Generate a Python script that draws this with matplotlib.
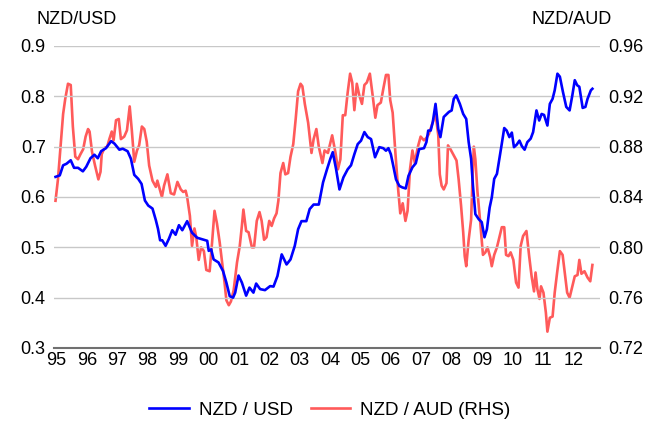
import matplotlib.pyplot as plt

plt.rcParams['font.family'] = ['Liberation Sans', 'DejaVu Sans']

# NZD/USD, left axis (decimal year, rate)
usd_t = [1994.97, 1995.11, 1995.22, 1995.33, 1995.47, 1995.58, 1995.71, 1995.87, 1995.98,
         1996.12, 1996.25, 1996.36, 1996.47, 1996.63, 1996.80, 1996.91, 1997.07, 1997.18,
         1997.34, 1997.45, 1997.56, 1997.69, 1997.80, 1997.91, 1998.02, 1998.16, 1998.27,
         1998.34, 1998.41, 1998.48, 1998.59, 1998.70, 1998.81, 1998.92, 1999.03, 1999.14,
         1999.30, 1999.46, 1999.63, 1999.79, 1999.96, 2000.01, 2000.09, 2000.17, 2000.33,
         2000.48, 2000.59, 2000.70, 2000.81, 2000.88, 2000.99, 2001.10, 2001.24, 2001.35,
         2001.48, 2001.57, 2001.70, 2001.86, 2002.03, 2002.14, 2002.27, 2002.41, 2002.57,
         2002.70, 2002.84, 2002.95, 2003.06, 2003.22, 2003.33, 2003.46, 2003.63, 2003.77,
         2003.90, 2004.01, 2004.09, 2004.20, 2004.31, 2004.44, 2004.58, 2004.69, 2004.80,
         2004.91, 2005.02, 2005.13, 2005.24, 2005.35, 2005.48, 2005.62, 2005.75, 2005.84,
         2005.92, 2006.00, 2006.08, 2006.17, 2006.28, 2006.38, 2006.49, 2006.58, 2006.71,
         2006.82, 2006.93, 2007.09, 2007.17, 2007.23, 2007.31, 2007.38, 2007.47, 2007.56,
         2007.63, 2007.74, 2007.91, 2008.00, 2008.07, 2008.15, 2008.27, 2008.38, 2008.48,
         2008.56, 2008.64, 2008.70, 2008.78, 2008.89, 2008.99, 2009.08, 2009.16, 2009.25,
         2009.32, 2009.40, 2009.49, 2009.58, 2009.65, 2009.73, 2009.81, 2009.90, 2009.98,
         2010.05, 2010.14, 2010.23, 2010.31, 2010.40, 2010.49, 2010.60, 2010.68, 2010.79,
         2010.88, 2010.96, 2011.04, 2011.15, 2011.23, 2011.32, 2011.39, 2011.48, 2011.56,
         2011.66, 2011.77, 2011.88, 2011.97, 2012.05, 2012.13, 2012.20, 2012.31, 2012.40,
         2012.47, 2012.58, 2012.63]
usd = [0.640, 0.643, 0.663, 0.666, 0.673, 0.658, 0.658, 0.651, 0.660,
       0.677, 0.684, 0.677, 0.691, 0.697, 0.711, 0.706, 0.694, 0.696,
       0.691, 0.676, 0.644, 0.636, 0.626, 0.593, 0.583, 0.577, 0.554,
       0.537, 0.514, 0.514, 0.503, 0.517, 0.534, 0.525, 0.544, 0.534,
       0.552, 0.529, 0.519, 0.516, 0.513, 0.493, 0.496, 0.476, 0.470,
       0.453, 0.430, 0.403, 0.400, 0.410, 0.444, 0.430, 0.404, 0.420,
       0.410, 0.428, 0.417, 0.415, 0.423, 0.422, 0.443, 0.486, 0.466,
       0.476, 0.503, 0.536, 0.552, 0.552, 0.576, 0.585, 0.585, 0.629,
       0.655, 0.676, 0.689, 0.655, 0.615, 0.639, 0.655, 0.663, 0.685,
       0.705, 0.712, 0.729, 0.719, 0.715, 0.679, 0.699, 0.697, 0.692,
       0.697, 0.685, 0.662, 0.635, 0.622, 0.619, 0.617, 0.642, 0.659,
       0.667, 0.695, 0.697, 0.709, 0.732, 0.732, 0.749, 0.785, 0.735,
       0.719, 0.759, 0.769, 0.772, 0.795, 0.802, 0.785, 0.765, 0.755,
       0.709, 0.676, 0.623, 0.566, 0.556, 0.550, 0.520, 0.536, 0.579,
       0.599, 0.636, 0.646, 0.679, 0.706, 0.737, 0.732, 0.719, 0.728,
       0.699, 0.704, 0.712, 0.701, 0.694, 0.709, 0.716, 0.729, 0.772,
       0.752, 0.765, 0.763, 0.742, 0.785, 0.795, 0.812, 0.845, 0.839,
       0.809, 0.779, 0.772, 0.802, 0.832, 0.822, 0.819, 0.777, 0.779,
       0.795, 0.812, 0.815]

# NZD/AUD, right axis
aud_t = [1994.97, 1995.05, 1995.14, 1995.22, 1995.29, 1995.38, 1995.47, 1995.54, 1995.62,
         1995.71, 1995.79, 1995.88, 1995.96, 1996.04, 1996.09, 1996.17, 1996.27, 1996.38,
         1996.45, 1996.49, 1996.58, 1996.67, 1996.74, 1996.82, 1996.88, 1996.96, 1997.05,
         1997.12, 1997.23, 1997.32, 1997.41, 1997.48, 1997.56, 1997.65, 1997.72, 1997.81,
         1997.89, 1997.97, 1998.05, 1998.16, 1998.27, 1998.32, 1998.47, 1998.54, 1998.65,
         1998.76, 1998.87, 1998.98, 1999.09, 1999.17, 1999.25, 1999.30, 1999.39, 1999.46,
         1999.54, 1999.60, 1999.68, 1999.76, 1999.85, 1999.93, 2000.04, 2000.12, 2000.20,
         2000.28, 2000.37, 2000.45, 2000.53, 2000.59, 2000.67, 2000.74, 2000.83, 2000.94,
         2001.03, 2001.10, 2001.15, 2001.24, 2001.32, 2001.43, 2001.50, 2001.59, 2001.68,
         2001.75, 2001.83, 2001.91, 2002.00, 2002.08, 2002.16, 2002.24, 2002.30, 2002.37,
         2002.46, 2002.53, 2002.62, 2002.70, 2002.79, 2002.87, 2002.95, 2003.03, 2003.09,
         2003.17, 2003.28, 2003.39, 2003.46, 2003.55, 2003.63, 2003.75, 2003.82, 2003.93,
         2004.07, 2004.18, 2004.26, 2004.34, 2004.42, 2004.50, 2004.58, 2004.66, 2004.73,
         2004.80, 2004.88, 2004.96, 2005.05, 2005.13, 2005.21, 2005.31, 2005.40, 2005.49,
         2005.56, 2005.67, 2005.76, 2005.84, 2005.92, 2005.98, 2006.06, 2006.15, 2006.23,
         2006.31, 2006.39, 2006.48, 2006.55, 2006.63, 2006.71, 2006.79, 2006.88, 2006.98,
         2007.09, 2007.17, 2007.25, 2007.36, 2007.47, 2007.56, 2007.61, 2007.67, 2007.74,
         2007.83, 2007.88, 2007.96, 2008.07, 2008.16, 2008.23, 2008.31, 2008.38, 2008.43,
         2008.48, 2008.56, 2008.64, 2008.69, 2008.73, 2008.78, 2008.85, 2008.94, 2009.03,
         2009.11, 2009.18, 2009.27, 2009.32, 2009.40, 2009.49, 2009.58, 2009.65, 2009.73,
         2009.79, 2009.87, 2009.94, 2010.03, 2010.12, 2010.20, 2010.27, 2010.35, 2010.46,
         2010.55, 2010.63, 2010.71, 2010.76, 2010.82, 2010.89, 2010.94, 2011.02, 2011.10,
         2011.15, 2011.23, 2011.32, 2011.39, 2011.47, 2011.56, 2011.65, 2011.72, 2011.80,
         2011.88, 2011.97, 2012.05, 2012.14, 2012.20, 2012.27, 2012.37, 2012.47, 2012.56,
         2012.63]
aud = [0.837, 0.854, 0.881, 0.906, 0.918, 0.930, 0.929, 0.896, 0.872,
       0.870, 0.874, 0.878, 0.888, 0.894, 0.892, 0.876, 0.865, 0.854,
       0.860, 0.874, 0.879, 0.880, 0.886, 0.892, 0.885, 0.901, 0.902,
       0.886, 0.888, 0.893, 0.912, 0.893, 0.868, 0.877, 0.881, 0.896,
       0.894, 0.884, 0.865, 0.853, 0.848, 0.853, 0.840, 0.849, 0.858,
       0.843, 0.842, 0.852, 0.846, 0.844, 0.845, 0.840, 0.825, 0.801,
       0.815, 0.808, 0.790, 0.800, 0.797, 0.782, 0.781, 0.804, 0.829,
       0.819, 0.804, 0.788, 0.772, 0.758, 0.754, 0.757, 0.766, 0.788,
       0.801, 0.817, 0.830, 0.813, 0.812, 0.800, 0.800, 0.821, 0.828,
       0.821, 0.806, 0.808, 0.821, 0.817, 0.823, 0.827, 0.837, 0.859,
       0.867, 0.858, 0.859, 0.872, 0.882, 0.902, 0.924, 0.930, 0.928,
       0.914, 0.899, 0.875, 0.886, 0.894, 0.880, 0.867, 0.877, 0.875,
       0.889, 0.875, 0.862, 0.870, 0.905, 0.905, 0.923, 0.938, 0.931,
       0.909, 0.930, 0.921, 0.914, 0.929, 0.931, 0.938, 0.921, 0.903,
       0.913, 0.915, 0.927, 0.937, 0.937, 0.917, 0.907, 0.875, 0.849,
       0.827, 0.835, 0.821, 0.829, 0.862, 0.877, 0.867, 0.879, 0.888,
       0.885, 0.887, 0.890, 0.898, 0.906, 0.889, 0.858, 0.849, 0.846,
       0.851, 0.881, 0.878, 0.873, 0.869, 0.854, 0.833, 0.812, 0.793,
       0.785, 0.806, 0.822, 0.857, 0.880, 0.870, 0.844, 0.820, 0.794,
       0.796, 0.800, 0.792, 0.785, 0.794, 0.800, 0.809, 0.816, 0.816,
       0.794, 0.793, 0.796, 0.790, 0.772, 0.768, 0.801, 0.809, 0.813,
       0.793, 0.777, 0.765, 0.780, 0.767, 0.759, 0.769, 0.764, 0.748,
       0.733, 0.744, 0.745, 0.764, 0.780, 0.797, 0.794, 0.780, 0.764,
       0.760, 0.769, 0.777, 0.778, 0.790, 0.779, 0.781, 0.776, 0.773,
       0.786]

years = list(range(1995, 2013))
year_labels = ['%02d' % (y % 100) for y in years]

fs = 13
fig = plt.figure(figsize=(6.63, 4.22), dpi=100)
ax = fig.add_axes([54 / 663, 1 - 348 / 422, 546 / 663, 302 / 422])
ax2 = ax.twinx()

l1, = ax.plot(usd_t, usd, color='#0000ff', lw=1.9, label='NZD / USD', zorder=3)
l2, = ax2.plot(aud_t, aud, color='#ff5a5a', lw=1.9, label='NZD / AUD (RHS)')
ax.set_zorder(ax2.get_zorder() + 1)
ax.patch.set_visible(False)

ax.set_xlim(1994.92, 2012.88)
ax.set_ylim(0.3, 0.9)
ax2.set_ylim(0.72, 0.96)
ax.set_yticks([0.3, 0.4, 0.5, 0.6, 0.7, 0.8, 0.9])
ax.set_yticklabels(['0.3', '0.4', '0.5', '0.6', '0.7', '0.8', '0.9'])
ax2.set_yticks([0.72, 0.76, 0.80, 0.84, 0.88, 0.92, 0.96])
ax2.set_yticklabels(['0.72', '0.76', '0.80', '0.84', '0.88', '0.92', '0.96'])
ax.set_xticks(years)
ax.set_xticklabels(year_labels)

ax.grid(axis='y', color='#c8c8c8', lw=1.0)
ax.tick_params(axis='y', length=0, pad=6, labelsize=fs)
ax.tick_params(axis='x', length=0, pad=3, labelsize=fs)
ax2.tick_params(axis='y', length=0, pad=6, labelsize=fs)

for a in (ax, ax2):
    for side in ('top', 'left', 'right', 'bottom'):
        a.spines[side].set_visible(False)
ax.spines['bottom'].set_visible(True)
ax.spines['bottom'].set_color('#707070')
ax.spines['bottom'].set_linewidth(1.5)

fig.text(36 / 663, 1 - 20 / 422, 'NZD/USD', fontsize=fs, va='center', ha='left')
fig.text(612 / 663, 1 - 20 / 422, 'NZD/AUD', fontsize=fs, va='center', ha='right')

fig.legend(handles=[l1, l2], loc='center', bbox_to_anchor=(330 / 663, 1 - 410 / 422),
           ncol=2, frameon=False, fontsize=13.5, handlelength=2.1,
           handletextpad=0.55, columnspacing=0.95)

fig.savefig('out.png', dpi=100)
